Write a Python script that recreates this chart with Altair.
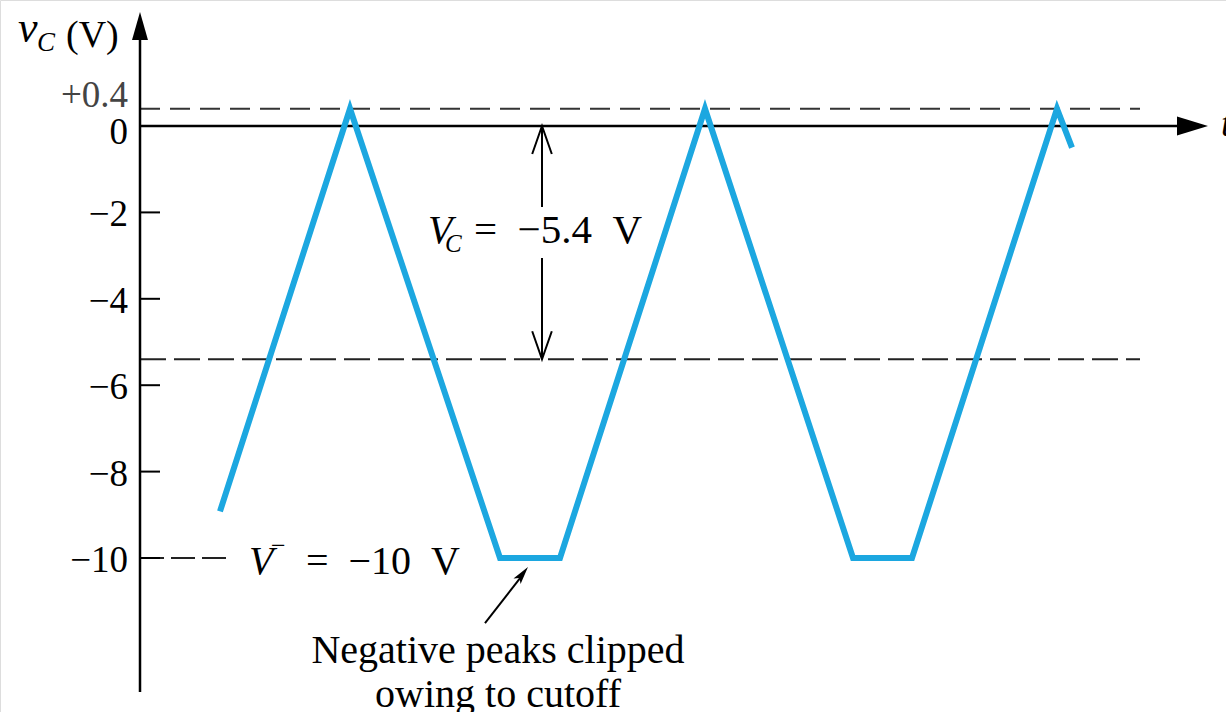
import altair as alt
import pandas as pd

# Collector voltage waveform: vertices (time in arbitrary units, volts)
wave_t = [0.80, 2.10, 3.60, 4.20, 5.65, 7.13, 7.72, 9.17, 9.32]
wave_v = [-8.92, 0.4, -10.0, -10.0, 0.4, -10.0, -10.0, 0.4, -0.5]

# Vertical axis ticks and labels
tick_values = [-2, -4, -6, -8, -10]
tick_labels = ["−2", "−4", "−6", "−8", "−10"]
zero_label = "0"
peak_label = "+0.4"

v_peak = 0.4      # positive peak of the waveform
v_bias = -5.4     # quiescent collector voltage V_C
v_cutoff = -10.0  # supply V-

SERIF = "Liberation Serif"
BLUE = "#1ca7e0"

xs = alt.Scale(domain=[-1.40, 10.86], nice=False, zero=False)
ys = alt.Scale(domain=[-13.565, 2.917], nice=False, zero=False)


def X(f="t"):
    return alt.X(f"{f}:Q", scale=xs, axis=None)


def Y(f="v"):
    return alt.Y(f"{f}:Q", scale=ys, axis=None)


def seg(rows, **mark):
    """Straight segments from (t, v) to (t2, v2)."""
    df = pd.DataFrame(rows, columns=["t", "v", "t2", "v2"])
    return alt.Chart(df).mark_rule(**mark).encode(
        x=X(), y=Y(), x2=alt.X2("t2:Q"), y2=alt.Y2("v2:Q")
    )


def txt(rows, **mark):
    df = pd.DataFrame(rows, columns=["t", "v", "label"])
    base = dict(font=SERIF, color="black", baseline="alphabetic", align="left")
    base.update(mark)
    return alt.Chart(df).mark_text(**base).encode(x=X(), y=Y(), text="label:N")


def sym(rows, shape, size, filled=True, **mark):
    df = pd.DataFrame(rows, columns=["t", "v"])
    style = dict(shape=shape, size=size, opacity=1)
    if filled:
        style.update(filled=True, fill="black", strokeWidth=0)
    else:
        style.update(filled=False, stroke="black", strokeWidth=2)
    style.update(mark)
    return alt.Chart(df).mark_point(**style).encode(x=X(), y=Y())


# waveform
wave_df = pd.DataFrame({"t": wave_t, "v": wave_v, "i": range(len(wave_t))})
wave = alt.Chart(wave_df).mark_line(
    color=BLUE, strokeWidth=6, strokeJoin="miter", strokeMiterLimit=20
).encode(x=X(), y=Y(), order="i:Q")

# axes with arrowheads
axes = seg([[0, -13.10, 0, 2.15], [0, 0, 10.45, 0]], color="black", strokeWidth=2.5)
up_head = sym([[0, 2.315]], "M0,-1L0.57,1L-0.57,1Z", 784)
right_head = sym([[10.525, 0]], "M1,0L-1,-0.62L-1,0.62Z", 961)

ticks = seg([[0, v, 0.2, v] for v in tick_values], color="black", strokeWidth=2)

# reference levels
peak_line = seg([[0, v_peak, 10.0, v_peak]], color="#333333", strokeWidth=2, strokeDash=[20, 10])
bias_line = seg([[0, v_bias, 10.0, v_bias]], color="#222222", strokeWidth=2, strokeDash=[26, 8])
cut_line = seg([[0, v_cutoff, 0.86, v_cutoff]], color="#222222", strokeWidth=2, strokeDash=[24, 7])

# tick labels
lab_ticks = txt([[-0.12, v, s] for v, s in zip(tick_values, tick_labels)],
                fontSize=37, align="right", dy=14)
lab_zero = txt([[-0.12, 0, zero_label]], fontSize=37, align="right", dy=18)
lab_peak = txt([[-0.12, v_peak, peak_label]], fontSize=37, align="right", dy=-2,
               color="#444444")

# axis titles
title_v = txt([[-1.22, 1.944, "v"]], fontSize=44, fontStyle="italic")
title_c = txt([[-1.03, 1.736, "C"]], fontSize=27, fontStyle="italic")
title_u = txt([[-0.74, 1.829, "(V)"]], fontSize=38)
title_t = txt([[10.81, -0.231, "t"]], fontSize=38, fontStyle="italic")

# V_C = -5.4 V with double-headed arrow
vc_arrow = seg([[4.02, 0, 4.02, -1.875], [4.02, -3.056, 4.02, v_bias]],
               color="black", strokeWidth=2)
vc_head_up = sym([[4.02, -0.324]], "M-0.7,1L0,-1L0.7,1", 784, filled=False)
vc_head_dn = sym([[4.02, -5.076]], "M-0.7,-1L0,1L0.7,-1", 784, filled=False)
vc_V = txt([[2.88, -2.708, "V"]], fontSize=40, fontStyle="italic")
vc_C = txt([[3.05, -2.917, "C"]], fontSize=25, fontStyle="italic")
vc_rest = txt([[3.34, -2.708, "=\u2002−5.4\u2002V"]], fontSize=41)

# V- = -10 V
vm_V = txt([[1.09, -10.37, "V"]], fontSize=40, fontStyle="italic")
vm_sup = txt([[1.31, -9.90, "−"]], fontSize=26)
vm_rest = txt([[1.66, -10.37, "=\u2002−10\u2002V"]], fontSize=40)

# clipping note with pointer
note_line = seg([[3.45, -11.505, 3.83, -10.38]], color="black", strokeWidth=2)
note_head = sym([[3.825, -10.372]], "M0,-1L0.5,1L0,0.55L-0.5,1Z", 324, angle=37.5)
note_text = txt([[3.58, -12.44, "Negative peaks clipped"],
                 [3.58, -13.45, "owing to cutoff"]], fontSize=40, align="center")

chart = alt.layer(
    peak_line, bias_line, cut_line, axes, ticks, up_head, right_head,
    wave,
    lab_ticks, lab_zero, lab_peak, title_v, title_c, title_u, title_t,
    vc_arrow, vc_head_up, vc_head_dn, vc_V, vc_C, vc_rest,
    vm_V, vm_sup, vm_rest,
    note_line, note_head, note_text,
).properties(
    width=1226, height=712, padding=0,
    autosize=alt.AutoSizeParams(type="none"),
).configure_view(stroke=None).configure(background="white")

chart.save("out.html", embed_options={"renderer": "svg", "actions": False})
